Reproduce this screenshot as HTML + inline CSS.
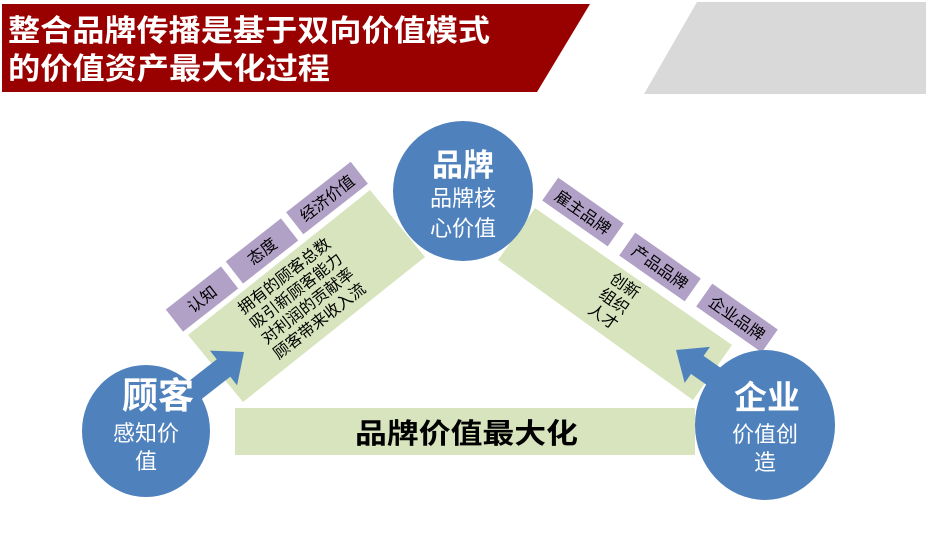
<!DOCTYPE html>
<html><head><meta charset="utf-8"><style>
html,body{margin:0;padding:0;background:#fff;}
svg{display:block;font-family:"Liberation Sans","Noto Sans CJK SC",sans-serif;}
</style></head><body>
<svg width="926" height="539" viewBox="0 0 926 539" xmlns="http://www.w3.org/2000/svg">
<polygon points="2,4 590,4 537,92 2,92" fill="#990000"/>
<polygon points="697,2 926,2 926,94 644,94" fill="#d9d9d9"/>
<text x="8" y="41" font-size="30" font-weight="bold" fill="#fff" textLength="482" lengthAdjust="spacingAndGlyphs">整合品牌传播是基于双向价值模式</text>
<text x="8" y="79" font-size="30" font-weight="bold" fill="#fff" textLength="322" lengthAdjust="spacingAndGlyphs">的价值资产最大化过程</text>

<!-- bottom band -->
<rect x="235" y="408" width="460" height="47" fill="#d7e4bd"/>
<text x="355" y="443" font-size="28" font-weight="bold" fill="#000" textLength="223" lengthAdjust="spacingAndGlyphs">品牌价值最大化</text>

<!-- left band -->
<polygon points="188,335 370,190 425,257 243,402" fill="#d7e4bd"/>
<g transform="translate(202,299) rotate(-38)"><rect x="-35" y="-14" width="70" height="28" fill="#b2a1c7"/><text x="0" y="6" font-size="16" text-anchor="middle">认知</text></g>
<g transform="translate(262,251) rotate(-38)"><rect x="-35" y="-14" width="70" height="28" fill="#b2a1c7"/><text x="0" y="6" font-size="16" text-anchor="middle">态度</text></g>
<g transform="translate(327,198) rotate(-38)"><rect x="-41" y="-14" width="82" height="28" fill="#b2a1c7"/><text x="0" y="6" font-size="16" text-anchor="middle">经济价值</text></g>
<g transform="translate(303,300) rotate(-38)" font-size="16" text-anchor="middle">
<text x="0" y="-25">拥有的顾客总数</text>
<text x="0" y="-6">吸引新顾客能力</text>
<text x="0" y="13">对利润的贡献率</text>
<text x="0" y="32">顾客带来收入流</text>
</g>

<!-- right band -->
<polygon points="498,260 535,208 732,345 693,400" fill="#d7e4bd"/>
<g transform="translate(583,212) rotate(35)"><rect x="-40" y="-14" width="80" height="28" fill="#b2a1c7"/><text x="0" y="6" font-size="16" text-anchor="middle">雇主品牌</text></g>
<g transform="translate(660,267) rotate(35)"><rect x="-40" y="-14" width="80" height="28" fill="#b2a1c7"/><text x="0" y="6" font-size="16" text-anchor="middle">产品品牌</text></g>
<g transform="translate(737,318) rotate(35)"><rect x="-40" y="-14" width="80" height="28" fill="#b2a1c7"/><text x="0" y="6" font-size="16" text-anchor="middle">企业品牌</text></g>
<g transform="translate(615,300) rotate(35)" font-size="16" text-anchor="middle">
<text x="0" y="-12">创新</text>
<text x="0" y="7">组织</text>
<text x="0" y="26">人才</text>
</g>

<!-- arrows -->
<g transform="translate(244,352) rotate(-38)" fill="#4f81bd"><polygon points="0,0 -26,-22 -26,22"/><rect x="-70" y="-11" width="46" height="22"/></g>
<g transform="translate(676,350) rotate(215)" fill="#4f81bd"><polygon points="0,0 -26,-22 -26,22"/><rect x="-70" y="-11" width="46" height="22"/></g>

<!-- circles -->
<ellipse cx="146" cy="431" rx="64" ry="66" fill="#4f81bd"/>
<text x="158" y="408" font-size="36" font-weight="bold" fill="#fff" text-anchor="middle">顾客</text>
<text x="146" y="441" font-size="22" fill="#fff" text-anchor="middle">感知价</text>
<text x="146" y="469" font-size="22" fill="#fff" text-anchor="middle">值</text>

<circle cx="463" cy="191" r="70" fill="#4f81bd"/>
<text x="463" y="176" font-size="31" font-weight="bold" fill="#fff" text-anchor="middle">品牌</text>
<text x="463" y="206" font-size="22" fill="#fff" text-anchor="middle">品牌核</text>
<text x="463" y="236" font-size="22" fill="#fff" text-anchor="middle">心价值</text>

<ellipse cx="765" cy="425" rx="70" ry="75" fill="#4f81bd"/>
<text x="767" y="409" font-size="33" font-weight="bold" fill="#fff" text-anchor="middle">企业</text>
<text x="765" y="442" font-size="22" fill="#fff" text-anchor="middle">价值创</text>
<text x="765" y="470" font-size="22" fill="#fff" text-anchor="middle">造</text>
</svg>
</body></html>
